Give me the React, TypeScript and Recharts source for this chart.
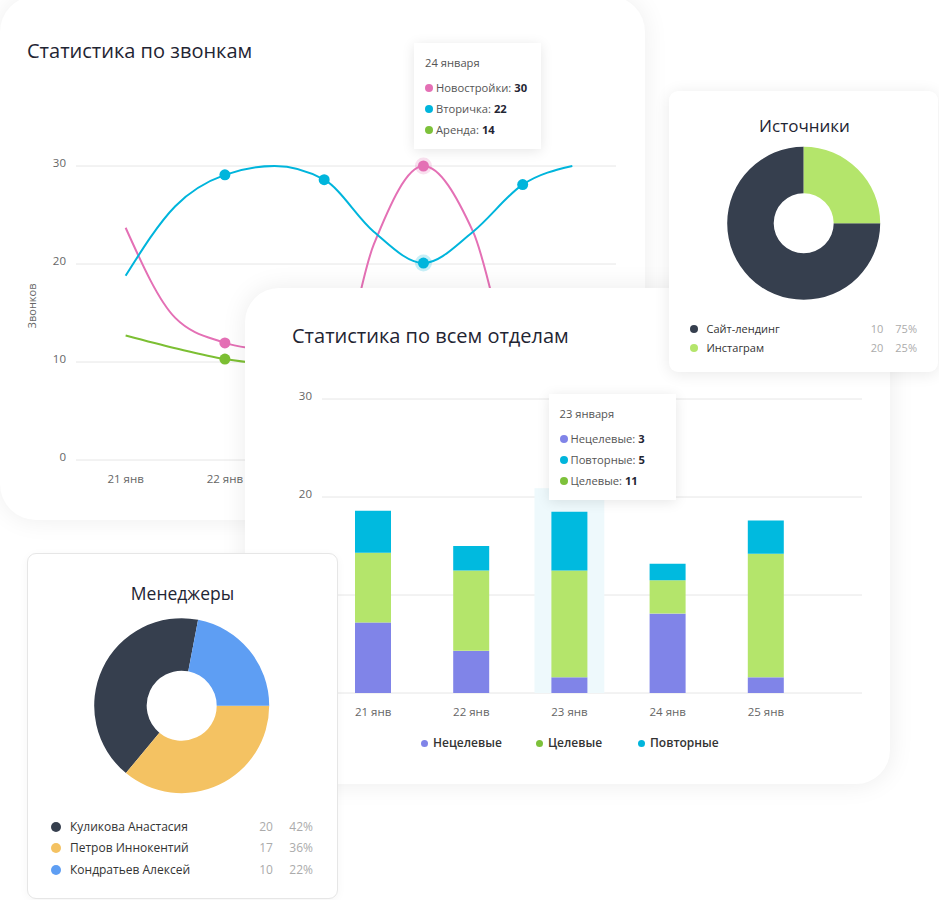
import React from 'react';
import { LineChart, Line, XAxis, YAxis, CartesianGrid, BarChart, Bar, PieChart, Pie, Cell } from 'recharts';

// ---------- Data ----------
const callDays = [21, 21.5, 22, 22.5, 23, 23.5, 24, 24.5, 25, 25.5];
const callTickDays = [21, 22, 23, 24, 25];
const dotDays = [22, 23, 24, 25];
const dayLabels = ['21 янв', '22 янв', '23 янв', '24 янв', '25 янв'];
const newBuildCalls = [23.7, 14.5, 11.95, 10.8, 5, 22, 30, 23.3, 8, 9];
const resaleCalls = [18.8, 25.9, 29.1, 30, 28.6, 23.3, 20.1, 23.3, 28.1, 30];
const rentCalls = [12.7, 11.4, 10.3, 9.8, 10, 12, 14, 13, 11, 10];
const callTicks = [0, 10, 20, 30];
const callsActiveDay = 24;

const callsTooltipTitle = '24 января';
const callsTooltipNames = ['Новостройки', 'Вторичка', 'Аренда'];
const callsTooltipValues = [30, 22, 14];

const nonTargetBars = [7.2, 4.3, 1.6, 8.1, 1.6];
const targetBars = [7.1, 8.2, 10.9, 3.4, 12.6];
const repeatBars = [4.3, 2.5, 6.0, 1.7, 3.4];
const barTicks = [0, 10, 20, 30];
const barHighlightIndex = 2;
const barHighlightLevel = 20.9;
const barLegendNames = ['Нецелевые', 'Целевые', 'Повторные'];

const barsTooltipTitle = '23 января';
const barsTooltipNames = ['Нецелевые', 'Повторные', 'Целевые'];
const barsTooltipValues = [3, 5, 11];

const sourceNames = ['Сайт-лендинг', 'Инстаграм'];
const sourceCounts = [10, 20];
const sourceShares = [75, 25];

const managerNames = ['Куликова Анастасия', 'Петров Иннокентий', 'Кондратьев Алексей'];
const managerCounts = [20, 17, 10];
const managerShares = [42, 36, 22];

// ---------- Styles ----------
const FONT = "'Open Sans', 'Noto Sans', sans-serif";
const C = {
  pink: '#e470b5',
  cyan: '#00b5dc',
  lineGreen: '#7cbf33',
  dotGreen: '#7dc13a',
  purple: '#8084e8',
  barGreen: '#b4e56b',
  barCyan: '#00badf',
  dark: '#363f4e',
  yellow: '#f4c262',
  blue: '#5e9ef3',
  title: '#1f2533',
  tick: '#666666',
  grid: '#e6e6e6',
  muted: '#ababab',
};
const callColors = [C.pink, C.cyan, C.lineGreen];
const callTooltipColors = [C.pink, C.cyan, C.dotGreen];
const barTooltipColors = [C.purple, C.cyan, C.dotGreen];
const barLegendColors = [C.purple, C.dotGreen, C.cyan];
const sourceColors = [C.dark, C.barGreen];
const managerColors = [C.dark, C.yellow, C.blue];

const callRows = callDays.map((d, i) => ({
  day: d,
  newBuild: newBuildCalls[i],
  resale: resaleCalls[i],
  rent: rentCalls[i],
}));
const barRows = dayLabels.map((d, i) => ({
  day: d,
  nonTarget: nonTargetBars[i],
  target: targetBars[i],
  repeat: repeatBars[i],
}));
const sourceRows = sourceNames.map((n, i) => ({ name: n, share: sourceShares[i] }));
const managerRows = managerNames.map((n, i) => ({ name: n, share: managerShares[i] }));

// ---------- Helpers ----------
const YTick = (props: any) => {
  const { x, y, payload } = props;
  return (
    <text x={x} y={y - 4} textAnchor="end" dominantBaseline="central" fontSize={11.5} fill={C.tick} fontFamily={FONT}>
      {payload.value}
    </text>
  );
};

const NumXTick = (props: any) => {
  const { x, y, payload } = props;
  const idx = callTickDays.indexOf(payload.value);
  return (
    <text x={x} y={y + 10} textAnchor="middle" dominantBaseline="central" fontSize={11.5} fill={C.tick} fontFamily={FONT}>
      {dayLabels[idx]}
    </text>
  );
};

const CatXTick = (props: any) => {
  const { x, y, payload } = props;
  return (
    <text x={x} y={y + 10} textAnchor="middle" dominantBaseline="central" fontSize={11.5} fill={C.tick} fontFamily={FONT}>
      {payload.value}
    </text>
  );
};

const makeDot = (color: string) => (props: any) => {
  const { cx, cy, index, payload } = props;
  const key = `dot-${color}-${index}`;
  if (cx == null || cy == null || !payload || dotDays.indexOf(payload.day) < 0) return <g key={key} />;
  return (
    <g key={key}>
      {payload.day === callsActiveDay && <circle cx={cx} cy={cy} r={8.5} fill={color} fillOpacity={0.22} />}
      <circle cx={cx} cy={cy} r={5.5} fill={color} />
    </g>
  );
};

const NonTargetShape = (props: any) => {
  const { x, y, width, height, index, payload, fill } = props;
  const base = y + height;
  const ppu = payload.nonTarget ? height / payload.nonTarget : 0;
  const hw = width * 1.94;
  return (
    <g>
      {index === barHighlightIndex && (
        <rect x={x + width / 2 - hw / 2} y={base - barHighlightLevel * ppu} width={hw} height={barHighlightLevel * ppu} fill="#eef9fc" />
      )}
      <rect x={x} y={y} width={width} height={height} fill={fill} />
    </g>
  );
};

const Tooltip = ({ left, top, title, names, values, colors }: any) => (
  <div
    style={{
      position: 'absolute', left, top, width: 127, height: 106, background: '#fff',
      boxShadow: '0 2px 12px rgba(0,0,0,0.10)', fontFamily: FONT, fontSize: 11.2, color: '#555', zIndex: 5,
    }}
  >
    <div style={{ position: 'absolute', left: 11, top: 13, lineHeight: '14px' }}>{title}</div>
    {names.map((n: string, i: number) => (
      <div key={n} style={{ position: 'absolute', left: 11, top: 38 + i * 21, lineHeight: '14px', display: 'flex', alignItems: 'center', whiteSpace: 'nowrap' }}>
        <span style={{ width: 8, height: 8, borderRadius: 4, background: colors[i], marginRight: 3, display: 'inline-block' }} />
        <span>{n}: </span>
        <span style={{ fontWeight: 700, color: '#1f2533', marginLeft: 3 }}>{values[i]}</span>
      </div>
    ))}
  </div>
);

const cardBase: React.CSSProperties = { position: 'absolute', background: '#fff', overflow: 'hidden' };
const pieMargin = { top: 0, right: 0, bottom: 0, left: 0 };

export default function App() {
  return (
    <div style={{ position: 'absolute', left: 0, top: 0, width: 939, height: 900, overflow: 'hidden', background: '#fff', fontFamily: FONT }}>
      {/* Card 1: calls line chart */}
      <div style={{ ...cardBase, left: 0, top: -4, width: 645, height: 524, borderRadius: 36, boxShadow: '0 0 26px rgba(0,0,0,0.07)', zIndex: 1 }}>
        <div style={{ position: 'absolute', left: 27, top: 42, fontSize: 20, lineHeight: '26px', color: C.title, fontWeight: 500, whiteSpace: 'nowrap' }}>
          Статистика по звонкам
        </div>
        <div style={{ position: 'absolute', left: 0, top: 4 }}>
          <LineChart width={645} height={520} data={callRows} margin={{ top: 166, right: 29, bottom: 30, left: 0 }}>
            <CartesianGrid vertical={false} stroke={C.grid} />
            <XAxis dataKey="day" type="number" domain={[20.5, 25.94]} ticks={callTickDays} allowDataOverflow axisLine={false} tickLine={false} tick={NumXTick} height={30} />
            <YAxis
              width={76}
              domain={[0, 30]}
              ticks={callTicks}
              axisLine={false}
              tickLine={false}
              tickMargin={4}
              tick={YTick}
              label={(p: any) => {
                const vb = p.viewBox || {};
                const cx = 31;
                const cy = (vb.y ?? 166) + (vb.height ?? 294) / 2 - 7;
                return (
                  <text x={cx} y={cy} transform={`rotate(-90 ${cx} ${cy})`} textAnchor="middle" dominantBaseline="central" fontSize={11} fill={C.tick} fontFamily={FONT}>
                    Звонков
                  </text>
                );
              }}
            />
            <Line type="monotone" dataKey="newBuild" stroke={callColors[0]} strokeWidth={2} dot={makeDot(callColors[0])} activeDot={false} isAnimationActive={false} />
            <Line type="monotone" dataKey="rent" stroke={callColors[2]} strokeWidth={2} dot={makeDot(callColors[2])} activeDot={false} isAnimationActive={false} />
            <Line type="monotone" dataKey="resale" stroke={callColors[1]} strokeWidth={2} dot={makeDot(callColors[1])} activeDot={false} isAnimationActive={false} />
          </LineChart>
        </div>
        <Tooltip left={414} top={47} title={callsTooltipTitle} names={callsTooltipNames} values={callsTooltipValues} colors={callTooltipColors} />
      </div>

      {/* Card 2: departments stacked bars */}
      <div style={{ ...cardBase, left: 245, top: 288, width: 645, height: 496, borderRadius: 34, boxShadow: '0 0 26px rgba(0,0,0,0.08)', zIndex: 2 }}>
        <div style={{ position: 'absolute', left: 47, top: 35, fontSize: 20, lineHeight: '26px', color: C.title, fontWeight: 500, whiteSpace: 'nowrap' }}>
          Статистика по всем отделам
        </div>
        <div style={{ position: 'absolute', left: 0, top: 0 }}>
          <BarChart width={645} height={496} data={barRows} margin={{ top: 111, right: 28, bottom: 61, left: 0 }} barSize={36}>
            <CartesianGrid vertical={false} stroke={C.grid} />
            <XAxis dataKey="day" axisLine={false} tickLine={false} padding={{ left: 2, right: 47 }} tick={CatXTick} height={30} />
            <YAxis width={77} domain={[0, 30]} ticks={barTicks} axisLine={false} tickLine={false} tickMargin={4} tick={YTick} />
            <Bar dataKey="nonTarget" stackId="s" fill={C.purple} shape={NonTargetShape} isAnimationActive={false} />
            <Bar dataKey="target" stackId="s" fill={C.barGreen} isAnimationActive={false} />
            <Bar dataKey="repeat" stackId="s" fill={C.barCyan} isAnimationActive={false} />
          </BarChart>
        </div>
        <div style={{ position: 'absolute', left: 0, width: 645, top: 447, fontSize: 12, fontWeight: 600, color: '#333' }}>
          {barLegendNames.map((n, i) => (
            <div key={n} style={{ position: 'absolute', left: [176, 291, 393][i], display: 'flex', alignItems: 'center', lineHeight: '16px', whiteSpace: 'nowrap' }}>
              <span style={{ width: 7, height: 7, borderRadius: 4, background: barLegendColors[i], marginRight: 5, display: 'inline-block' }} />
              {n}
            </div>
          ))}
        </div>
        <Tooltip left={303.5} top={106} title={barsTooltipTitle} names={barsTooltipNames} values={barsTooltipValues} colors={barTooltipColors} />
      </div>

      {/* Card 3: sources donut */}
      <div style={{ ...cardBase, left: 669, top: 91, width: 269, height: 281, borderRadius: 9, boxShadow: '0 2px 16px rgba(0,0,0,0.09)', zIndex: 3 }}>
        <div style={{ position: 'absolute', left: 0, width: 271, top: 23, textAlign: 'center', fontSize: 17, lineHeight: '24px', color: C.title, fontWeight: 500 }}>
          Источники
        </div>
        <div style={{ position: 'absolute', left: 0, top: 0 }}>
          <PieChart width={269} height={281} margin={pieMargin}>
            <Pie data={sourceRows} dataKey="share" nameKey="name" cx={134.7} cy={132.3} innerRadius={30} outerRadius={76.5} startAngle={90} endAngle={450} stroke="none" isAnimationActive={false}>
              {sourceRows.map((r, i) => (
                <Cell key={r.name} fill={sourceColors[i]} />
              ))}
            </Pie>
          </PieChart>
        </div>
        {sourceNames.map((n, i) => (
          <div key={n} style={{ position: 'absolute', left: 0, top: 230 + i * 19, width: 269, height: 15, fontSize: 11, lineHeight: '15px' }}>
            <span style={{ position: 'absolute', left: 21, top: 3.5, width: 8, height: 8, borderRadius: 4, background: sourceColors[i] }} />
            <span style={{ position: 'absolute', left: 37.5, color: '#333', whiteSpace: 'nowrap' }}>{n}</span>
            <span style={{ position: 'absolute', left: 193, width: 30, textAlign: 'center', color: C.muted }}>{sourceCounts[i]}</span>
            <span style={{ position: 'absolute', right: 21, textAlign: 'right', color: C.muted }}>{sourceShares[i]}%</span>
          </div>
        ))}
      </div>

      {/* Card 4: managers donut */}
      <div style={{ ...cardBase, left: 27, top: 553, width: 311, height: 346, borderRadius: 9, border: '1px solid #e6e6e6', boxSizing: 'border-box', boxShadow: '0 2px 10px rgba(0,0,0,0.04)', zIndex: 3 }}>
        <div style={{ position: 'absolute', left: 0, width: 309, top: 26, textAlign: 'center', fontSize: 17.5, lineHeight: '26px', color: C.title, fontWeight: 500 }}>
          Менеджеры
        </div>
        <div style={{ position: 'absolute', left: -1, top: -1 }}>
          <PieChart width={311} height={346} margin={pieMargin}>
            <Pie data={managerRows} dataKey="share" nameKey="name" cx={154.7} cy={152.7} innerRadius={35} outerRadius={87.5} startAngle={79.2} endAngle={439.2} stroke="none" isAnimationActive={false}>
              {managerRows.map((r, i) => (
                <Cell key={r.name} fill={managerColors[i]} />
              ))}
            </Pie>
          </PieChart>
        </div>
        {managerNames.map((n, i) => (
          <div key={n} style={{ position: 'absolute', left: -1, top: 263.5 + i * 21.6, width: 311, height: 18, fontSize: 12, lineHeight: '18px' }}>
            <span style={{ position: 'absolute', left: 23.7, top: 4, width: 10, height: 10, borderRadius: 5, background: managerColors[i] }} />
            <span style={{ position: 'absolute', left: 43, color: '#333', whiteSpace: 'nowrap' }}>{n}</span>
            <span style={{ position: 'absolute', left: 224, width: 30, textAlign: 'center', color: C.muted }}>{managerCounts[i]}</span>
            <span style={{ position: 'absolute', right: 25, textAlign: 'right', color: C.muted }}>{managerShares[i]}%</span>
          </div>
        ))}
      </div>
    </div>
  );
}
